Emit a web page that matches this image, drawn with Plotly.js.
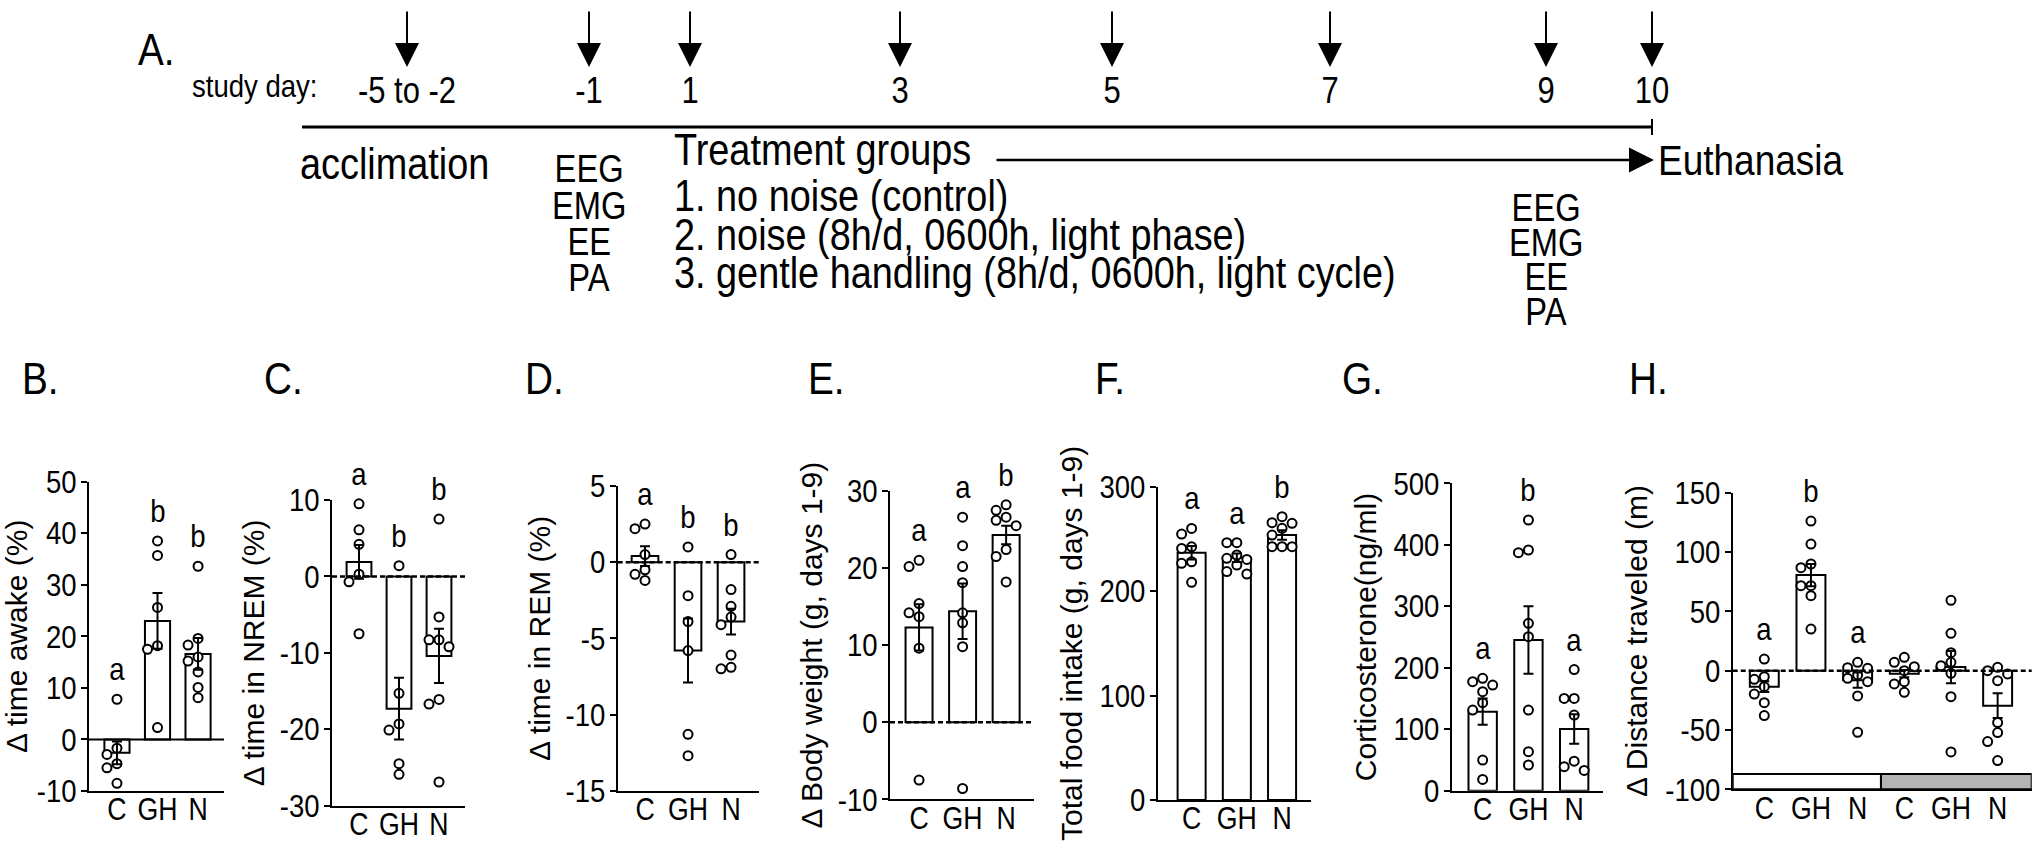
<!DOCTYPE html>
<html><head><meta charset="utf-8">
<script src="https://cdn.plot.ly/plotly-3.0.1.min.js"></script>
<style>html,body{margin:0;padding:0;background:#fff}#chart{width:2040px;height:862px}</style>
</head><body><div id="chart"></div>
<script>
// ---------------- DATA ----------------
const categories = ['C', 'GH', 'N'];
const categoriesH = ['C', 'GH', 'N', 'C', 'GH', 'N'];

// B. time awake
const awakeMean = [-2.6, 23.0, 16.6];
const awakeSem = [2.2, 5.4, 3.1];
const awakeC = [7.8, -1.7, -2.9, -4.7, -5.5, -8.5];
const awakeGH = [38.5, 35.7, 25.6, 18.2, 17.5, 2.3];
const awakeN = [33.6, 19.6, 18.3, 16.0, 15.2, 13.1, 10.1, 8.1];
const awakeLetters = ['a', 'b', 'b'];

// C. time in NREM
const nremMean = [1.9, -17.3, -10.4];
const nremSem = [2.2, 4.05, 3.55];
const nremC = [9.5, 6.1, 4.2, 0.3, -0.7, -7.5];
const nremGH = [1.4, -15.3, -19.3, -20.1, -24.5, -25.9];
const nremN = [7.5, -5.3, -8.3, -8.3, -9.2, -16.1, -16.7, -26.9];
const nremLetters = ['a', 'b', 'b'];

// D. time in REM
const remMean = [0.4, -5.8, -3.9];
const remSem = [0.65, 2.1, 0.85];
const remC = [2.5, 2.2, 0.5, -0.5, -0.8, -1.2];
const remGH = [1.0, -2.2, -3.9, -5.8, -11.3, -12.7];
const remN = [0.5, -1.8, -2.9, -3.6, -4.1, -6.1, -6.9, -7.0];
const remLetters = ['a', 'b', 'b'];

// E. body weight
const bwMean = [12.3, 14.4, 24.3];
const bwSem = [3.0, 3.6, 1.2];
const bwC = [21.0, 20.2, 15.4, 14.2, 13.7, 9.6, -7.5];
const bwGH = [26.6, 22.9, 20.2, 18.1, 14.2, 12.9, 9.8, -8.6];
const bwN = [28.2, 27.5, 26.6, 26.2, 25.5, 22.4, 21.5, 18.2];
const bwLetters = ['a', 'a', 'b'];

// F. total food intake
const foodMean = [236.8, 232.0, 253.7];
const foodSem = [6.4, 4.1, 4.5];
const foodC = [260, 254.6, 242.4, 240.9, 228.1, 226.6, 208.4];
const foodGH = [246.4, 246.4, 234.6, 231.4, 230.4, 225, 218.7, 216.4];
const foodN = [271.3, 265.5, 264.9, 260.1, 253.7, 242.6, 242.6, 242.6];
const foodLetters = ['a', 'a', 'b'];

// G. corticosterone
const cortMean = [128.5, 245.1, 100.5];
const cortSem = [21.4, 54.8, 24];
const cortC = [182.8, 177.3, 171.9, 161, 143.2, 131.2, 49.9, 18.4];
const cortGH = [440.3, 391.5, 387.2, 272.2, 250.5, 131.2, 63.4, 41.8];
const cortN = [197, 150, 150, 123, 48, 39, 33];
const cortLetters = ['a', 'b', 'a'];

// H. distance traveled (light phase C GH N, then dark phase C GH N)
const distMean = [-13.5, 80.6, -8.0, -2.5, 3.0, -29.5];
const distSem = [4.5, 9.4, 6.5, 3.0, 13.6, 10.5];
const distC = [9.8, -5.1, -7.3, -13.5, -19.7, -27.0, -37.9];
const distGH = [126.1, 106.7, 89.9, 86.8, 71.6, 71.6, 63.2, 35.1];
const distN = [7.0, 2.5, 2.0, -3.7, -6.5, -9.3, -21.3, -52.0];
const distC2 = [11.2, 7.0, 3.4, 0, -9.3, -11.2, -18.3];
const distGH2 = [59.3, 31.5, 15.2, 7.0, 4.2, -2.2, -21.9, -68.5];
const distN2 = [2.8, 0, -2.8, -8.4, -43.8, -52.2, -59.8, -75.8];
const distLetters = ['a', 'b', 'a', '', '', ''];

// A. timeline
const timelineLabels = ['-5 to -2', '-1', '1', '3', '5', '7', '9', '10'];
const measureLabels = ['EEG', 'EMG', 'EE', 'PA'];
const treatmentLines = ['Treatment groups', '1. no noise (control)',
  '2. noise (8h/d, 0600h, light phase)', '3. gentle handling (8h/d, 0600h, light cycle)'];

// ---------------- LAYOUT HELPERS ----------------
const W = 2040, H = 862;
const FONT = 'Liberation Sans, Arial, Helvetica, sans-serif';
const CONDENSE = 0.86;   // the reference lettering is horizontally condensed
const X = px => px / W;
const Y = py => 1 - py / H;

const panels = [
  {letter: 'B.', lx: 20, cats: categories, means: awakeMean, sems: awakeSem, pts: [awakeC, awakeGH, awakeN], letters: awakeLetters,
   title: 'Δ time awake (%)', range: [-10, 50], dtick: 10, xpx: [89, 224], ypx: [481.7, 791], xr: [-0.69, 2.64], zero: 'solid'},
  {letter: 'C.', lx: 262, cats: categories, means: nremMean, sems: nremSem, pts: [nremC, nremGH, nremN], letters: nremLetters,
   title: 'Δ time in NREM (%)', range: [-30, 10], dtick: 10, xpx: [332, 465], ypx: [500, 805.7], xr: [-0.675, 2.65], zero: 'dash'},
  {letter: 'D.', lx: 523, cats: categories, means: remMean, sems: remSem, pts: [remC, remGH, remN], letters: remLetters,
   title: 'Δ time in REM (%)', range: [-15, 5], dtick: 5, xpx: [617.7, 759], ypx: [486, 790.7], xr: [-0.635, 2.65], zero: 'dash'},
  {letter: 'E.', lx: 806, cats: categories, means: bwMean, sems: bwSem, pts: [bwC, bwGH, bwN], letters: bwLetters,
   title: 'Δ Body weight (g, days 1-9)', range: [-10, 30], dtick: 10, xpx: [890, 1034], ypx: [491, 799.3], xr: [-0.667, 2.64], zero: 'dash'},
  {letter: 'F.', lx: 1093, cats: categories, means: foodMean, sems: foodSem, pts: [foodC, foodGH, foodN], letters: foodLetters,
   title: 'Total food intake (g, days 1-9)', range: [0, 300], dtick: 100, xpx: [1157.7, 1311], ypx: [486.7, 800], xr: [-0.75, 2.64], zero: 'none'},
  {letter: 'G.', lx: 1340, cats: categories, means: cortMean, sems: cortSem, pts: [cortC, cortGH, cortN], letters: cortLetters,
   title: 'Corticosterone(ng/ml)', range: [0, 500], dtick: 100, xpx: [1451.7, 1603], ypx: [483.3, 790.7], xr: [-0.677, 2.63], zero: 'none'},
  {letter: 'H.', lx: 1627, cats: categoriesH, means: distMean, sems: distSem, pts: [distC, distGH, distN, distC2, distGH2, distN2], letters: distLetters,
   title: 'Δ Distance traveled (m)', range: [-100, 150], dtick: 50, xpx: [1732.7, 2031.7], ypx: [492.7, 789.3], xr: [-0.677, 5.73], zero: 'dash', strip: true}
];

function swarmOffsets(vals, pxPerUnit, pxPerCat) {
  const order = vals.map((v, i) => i).sort((a, b) => vals[b] - vals[a]);
  const placed = [], off = [];
  for (const i of order) {
    const yp = vals[i] * pxPerUnit;
    for (const k of [0, -1, 1, -2, 2, -3, 3]) {
      const xp = k * 10;
      if (placed.every(p => Math.hypot(p[0] - xp, p[1] - yp) >= 9.5)) {
        placed.push([xp, yp]); off[i] = xp / pxPerCat; break;
      }
    }
  }
  return off;
}

const traces = [], annotations = [], shapes = [];
const layout = {
  width: W, height: H, margin: {l: 0, r: 0, t: 0, b: 0},
  paper_bgcolor: 'white', plot_bgcolor: 'rgba(0,0,0,0)', showlegend: false,
  font: {family: FONT, color: 'black', size: 30}
};

panels.forEach((p, idx) => {
  const n = idx + 1;
  const xa = 'x' + (n === 1 ? '' : n), ya = 'y' + (n === 1 ? '' : n);
  const xKey = 'xaxis' + (n === 1 ? '' : n), yKey = 'yaxis' + (n === 1 ? '' : n);
  const catIdx = p.cats.map((c, i) => i);
  const tickvals = [];
  for (let v = p.range[0]; v <= p.range[1] + 1e-9; v += p.dtick) tickvals.push(v);

  layout[xKey] = {
    domain: [X(p.xpx[0]), X(p.xpx[1])], range: p.xr, anchor: ya,
    showline: true, linecolor: 'black', linewidth: 2, ticks: '', ticklen: 0,
    tickvals: catIdx, ticktext: p.cats, tickfont: {size: 31},
    showgrid: false, zeroline: false, fixedrange: true, ticklabelstandoff: -10
  };
  layout[yKey] = {
    domain: [Y(p.ypx[1]), Y(p.ypx[0])], range: p.range, anchor: xa,
    showline: true, linecolor: 'black', linewidth: 2,
    ticks: 'outside', ticklen: 6, tickwidth: 2, tickcolor: 'black',
    tickvals: tickvals, ticktext: tickvals.map(v => String(v)), tickfont: {size: 32},
    showgrid: false, zeroline: false, fixedrange: true, ticklabelstandoff: -2,
    title: {text: p.title, font: {size: 30}, standoff: 0}
  };

  // bars
  traces.push({
    type: 'bar', x: catIdx, y: p.means, xaxis: xa, yaxis: ya, width: 0.62,
    marker: {color: 'white', line: {color: 'black', width: 2}}, hoverinfo: 'skip'
  });

  // individual points
  const pxPerUnit = (p.ypx[1] - p.ypx[0]) / (p.range[1] - p.range[0]);
  const pxPerCat = (p.xpx[1] - p.xpx[0]) / (p.xr[1] - p.xr[0]);
  p.pts.forEach((vals, ci) => {
    const off = swarmOffsets(vals, pxPerUnit, pxPerCat);
    traces.push({
      type: 'scatter', mode: 'markers', xaxis: xa, yaxis: ya,
      x: vals.map((v, j) => ci + off[j]), y: vals,
      marker: {symbol: 'circle', size: 9, color: 'white', line: {color: 'black', width: 2}},
      hoverinfo: 'skip', cliponaxis: false
    });
  });

  // error bars (mean +/- SEM)
  traces.push({
    type: 'scatter', mode: 'markers', x: catIdx, y: p.means, xaxis: xa, yaxis: ya,
    marker: {size: 1, color: 'rgba(0,0,0,0)'},
    error_y: {type: 'data', array: p.sems, visible: true, color: 'black', thickness: 2, width: 5},
    hoverinfo: 'skip'
  });

  // significance letters
  p.letters.forEach((L, ci) => {
    if (!L) return;
    const top = Math.max(Math.max(...p.pts[ci]), p.means[ci] + p.sems[ci]);
    annotations.push({xref: xa, yref: ya, x: ci, y: top, text: L, showarrow: false,
      yanchor: 'middle', yshift: 30, font: {size: 32}});
  });

  // zero line
  if (p.zero !== 'none') {
    shapes.push({type: 'line', xref: xa + ' domain', yref: ya, x0: 0, x1: 1, y0: 0, y1: 0,
      line: {color: 'black', width: p.zero === 'solid' ? 2 : 2.5, dash: p.zero === 'solid' ? 'solid' : '5px,3px'}, layer: 'above'});
  }

  // light / dark phase strip
  if (p.strip) {
    shapes.push({type: 'rect', xref: xa, yref: ya + ' domain', x0: p.xr[0], x1: 2.5, y0: 0, y1: 0.052,
      fillcolor: 'white', line: {color: 'black', width: 2}, layer: 'above'});
    shapes.push({type: 'rect', xref: xa, yref: ya + ' domain', x0: 2.5, x1: p.xr[1], y0: 0, y1: 0.052,
      fillcolor: '#b4b4b4', line: {color: 'black', width: 2}, layer: 'above'});
  }

  // panel letter
  annotations.push({xref: 'paper', yref: 'paper', x: X(p.lx), y: Y(378), xanchor: 'left', yanchor: 'middle', align: 'left',
    text: p.letter, showarrow: false, font: {size: 45}});
});

// ---------------- PANEL A (timeline schematic) ----------------
const arrowPx = [407, 589, 690, 900, 1112, 1330, 1546, 1652];
const txt = (px, py, text, size, xanchor) => annotations.push({xref: 'paper', yref: 'paper', x: X(px), y: Y(py),
  xanchor: xanchor || 'left', align: xanchor || 'left', yanchor: 'middle', text: text, showarrow: false, font: {size: size}});

txt(136, 50, 'A.', 45);
txt(190, 86, 'study day:', 32);
timelineLabels.forEach((t, i) => {
  annotations.push({xref: 'paper', yref: 'paper', x: X(arrowPx[i]), y: Y(67), text: '', showarrow: true,
    ax: 0, ay: -57, arrowhead: 2, arrowwidth: 2, arrowsize: 2.4, arrowcolor: 'black', standoff: 0});
  txt(arrowPx[i], 91, t, 36, 'center');
});
shapes.push({type: 'line', xref: 'paper', yref: 'paper', x0: X(302), x1: X(1652), y0: Y(127), y1: Y(127),
  line: {color: 'black', width: 3}});
shapes.push({type: 'line', xref: 'paper', yref: 'paper', x0: X(1652), x1: X(1652), y0: Y(119), y1: Y(135),
  line: {color: 'black', width: 2}});
annotations.push({xref: 'paper', yref: 'paper', x: X(1654), y: Y(160), text: '', showarrow: true,
  ax: -659, ay: 0, arrowhead: 2, arrowwidth: 2.5, arrowsize: 2, arrowcolor: 'black', standoff: 0});
txt(1656, 160, 'Euthanasia', 43);
txt(298, 163, 'acclimation', 44);
const leftStackY = [169, 206, 242, 278];
const rightStackY = [208, 243, 277, 312];
const treatY = [150, 195, 234, 273];
measureLabels.forEach((m, i) => {
  txt(589, leftStackY[i], m, 38, 'center');
  txt(1546, rightStackY[i], m, 38, 'center');
});
treatmentLines.forEach((t, i) => txt(672, treatY[i], t, 44));

layout.annotations = annotations;
layout.shapes = shapes;

// condense horizontal lettering (rotated axis titles keep their length)
function condense(gd) {
  gd.querySelectorAll('svg text').forEach(t => {
    const cls = t.getAttribute('class') || '';
    const tr = t.getAttribute('transform') || '';
    if (/title/.test(cls) || /rotate/.test(tr) || t.closest('[class*="title"]')) return;
    const len = t.getComputedTextLength();
    if (!len) return;
    t.setAttribute('textLength', (len * CONDENSE).toFixed(2));
    t.setAttribute('lengthAdjust', 'spacingAndGlyphs');
  });
}

Plotly.newPlot('chart', traces, layout, {staticPlot: true, displayModeBar: false})
  .then(gd => condense(gd));
</script>
</body></html>
